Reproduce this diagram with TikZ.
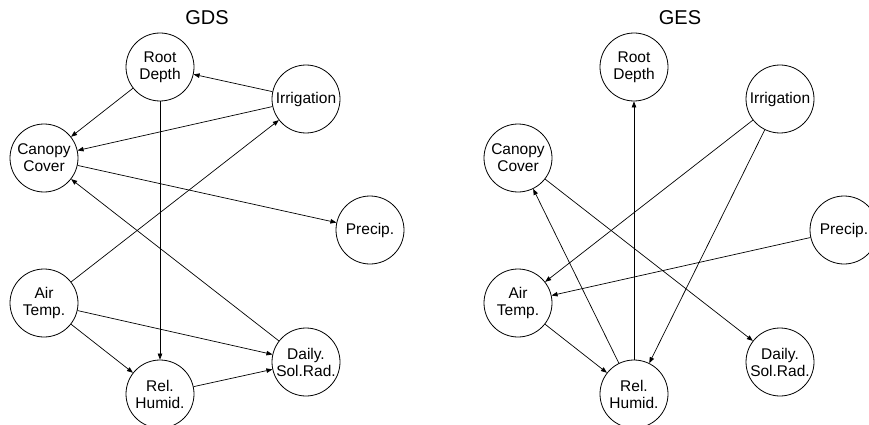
\documentclass[tikz,border=0pt]{standalone}
\usepackage{fontspec}
\setmainfont{Liberation Sans}
\usetikzlibrary{arrows.meta}
\begin{document}
\begin{tikzpicture}[x=1pt,y=-1pt,
  var/.style={circle,draw,line width=0.8pt,minimum size=68pt,inner sep=0pt,align=center,font=\fontsize{15.5}{17}\selectfont},
  ttl/.style={font=\fontsize{20}{22}\selectfont},
  edge/.style={line width=0.7pt,-{Triangle[length=6pt,width=4.5pt]}}]
\useasboundingbox (0,0) rectangle (869,425);
% GDS
\node[ttl] (t1) at (207,18) {GDS};
\node[var] (rd1) at (160,67) {Root\\Depth};
\node[var] (ir1) at (306,99) {Irrigation};
\node[var] (cc1) at (44,158) {Canopy\\Cover};
\node[var] (pr1) at (370,230) {Precip.};
\node[var] (at1) at (44,303) {Air\\Temp.};
\node[var] (rh1) at (160,394) {Rel.\\Humid.};
\node[var] (ds1) at (306,362) {Daily.\\Sol.Rad.};
\draw[edge] (ir1) -- (rd1);
\draw[edge] (rd1) -- (cc1);
\draw[edge] (ir1) -- (cc1);
\draw[edge] (rd1) -- (rh1);
\draw[edge] (at1) -- (ir1);
\draw[edge] (cc1) -- (pr1);
\draw[edge] (ds1) -- (cc1);
\draw[edge] (at1) -- (ds1);
\draw[edge] (at1) -- (rh1);
\draw[edge] (rh1) -- (ds1);
% GES
\node[ttl] (t2) at (680,18) {GES};
\node[var] (rd2) at (634,67) {Root\\Depth};
\node[var] (ir2) at (780,99) {Irrigation};
\node[var] (cc2) at (518,158) {Canopy\\Cover};
\node[var] (pr2) at (844,230) {Precip.};
\node[var] (at2) at (518,303) {Air\\Temp.};
\node[var] (rh2) at (634,394) {Rel.\\Humid.};
\node[var] (ds2) at (780,362) {Daily.\\Sol.Rad.};
\draw[edge] (rh2) -- (rd2);
\draw[edge] (ir2) -- (at2);
\draw[edge] (ir2) -- (rh2);
\draw[edge] (rh2) -- (cc2);
\draw[edge] (cc2) -- (ds2);
\draw[edge] (pr2) -- (at2);
\draw[edge] (at2) -- (rh2);
\end{tikzpicture}
\end{document}
